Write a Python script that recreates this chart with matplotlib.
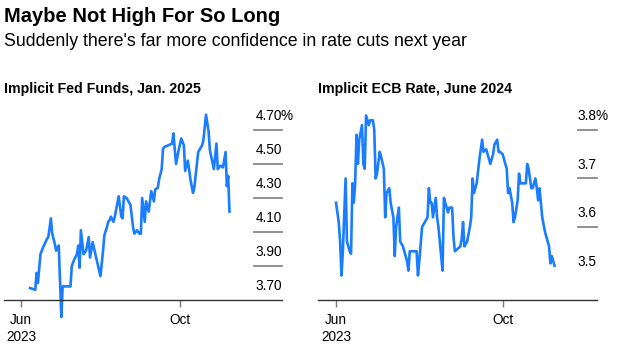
import numpy as np
import pandas as pd
import matplotlib
matplotlib.use('Agg')
import matplotlib.pyplot as plt
import matplotlib.transforms as mtransforms

plt.rcParams['font.family'] = ['Liberation Sans', 'DejaVu Sans']

# data: day offsets from 1 Jun 2023 and rate in %
fed_days = [7, 11, 12, 13, 15, 17, 20, 21, 23, 24, 26, 27, 29, 31, 32, 34, 35, 38,
            39, 41, 43, 44, 45, 46, 48, 50, 52, 53, 55, 58, 61, 63, 64, 66, 67, 68,
            69, 71, 72, 73, 75, 77, 78, 79, 81, 84, 86, 87, 89, 91, 92, 93, 95, 96,
            98, 100, 102, 103, 105, 106, 108, 109, 110, 113, 116, 117, 119, 121, 123,
            125, 126, 128, 129, 130, 132, 133, 135, 136, 139, 140, 142, 144, 145, 148,
            150, 151, 153, 155, 157, 158, 159, 160]
fed_vals = [3.77, 3.76, 3.86, 3.80, 3.97, 4.01, 4.06, 4.07, 4.18, 4.09, 4.03, 3.99,
            4.02, 3.60, 3.78, 3.78, 3.78, 3.78, 3.90, 3.94, 3.97, 4.02, 3.89, 4.11,
            3.97, 3.99, 4.07, 3.95, 4.04, 3.94, 3.84, 3.99, 4.08, 4.13, 4.16, 4.17,
            4.19, 4.16, 4.19, 4.23, 4.31, 4.19, 4.18, 4.31, 4.30, 4.26, 4.13, 4.09,
            4.11, 4.09, 4.09, 4.30, 4.16, 4.28, 4.22, 4.34, 4.28, 4.35, 4.36, 4.41,
            4.47, 4.59, 4.60, 4.61, 4.62, 4.68, 4.50, 4.58, 4.65, 4.61, 4.46, 4.52,
            4.47, 4.41, 4.33, 4.36, 4.50, 4.57, 4.61, 4.64, 4.79, 4.69, 4.58, 4.47,
            4.62, 4.47, 4.49, 4.48, 4.57, 4.37, 4.43, 4.22]

ecb_days = [0, 2, 3, 4, 5, 7, 8, 10, 11, 12, 13, 14, 15, 16, 17, 19, 20, 21, 22, 24,
            25, 27, 28, 29, 30, 32, 33, 35, 36, 37, 39, 40, 42, 43, 44, 46, 47, 49,
            50, 52, 53, 54, 57, 59, 60, 61, 63, 65, 67, 68, 69, 70, 71, 73, 74, 75,
            77, 78, 79, 80, 82, 83, 85, 86, 87, 89, 91, 92, 93, 94, 96, 98, 99, 100,
            101, 103, 105, 107, 108, 110, 111, 113, 115, 116, 118, 119, 120, 122, 124,
            125, 126, 127, 129, 130, 131, 133, 134, 135, 137, 139, 140, 141, 143, 144,
            146, 147, 148, 149, 151, 153, 155, 156, 157, 158, 160]
ecb_vals = [3.65, 3.61, 3.57, 3.50, 3.55, 3.70, 3.57, 3.55, 3.545, 3.69, 3.65, 3.69,
            3.79, 3.73, 3.78, 3.81, 3.73, 3.72, 3.83, 3.81, 3.82, 3.82, 3.80, 3.70,
            3.71, 3.755, 3.745, 3.72, 3.62, 3.67, 3.68, 3.65, 3.62, 3.54, 3.60, 3.64,
            3.57, 3.56, 3.55, 3.53, 3.51, 3.55, 3.55, 3.55, 3.50, 3.53, 3.60, 3.61,
            3.62, 3.68, 3.65, 3.65, 3.62, 3.66, 3.62, 3.60, 3.54, 3.51, 3.66, 3.65,
            3.63, 3.64, 3.64, 3.58, 3.55, 3.555, 3.56, 3.575, 3.61, 3.56, 3.57, 3.60,
            3.62, 3.70, 3.67, 3.69, 3.74, 3.78, 3.755, 3.76, 3.75, 3.73, 3.75, 3.77,
            3.78, 3.755, 3.755, 3.75, 3.73, 3.72, 3.67, 3.68, 3.65, 3.61, 3.62, 3.655,
            3.71, 3.69, 3.69, 3.69, 3.73, 3.72, 3.68, 3.68, 3.70, 3.68, 3.655, 3.68,
            3.62, 3.59, 3.57, 3.56, 3.525, 3.54, 3.52]

fed_ticks = [4.70, 4.50, 4.30, 4.10, 3.90, 3.70]
fed_labels = ['4.70', '4.50', '4.30', '4.10', '3.90', '3.70']
ecb_ticks = [3.8, 3.7, 3.6, 3.5]
ecb_labels = ['3.8', '3.7', '3.6', '3.5']
month_ticks = ['2023-06-01', '2023-10-01']
month_labels = ['Jun\n2023', 'Oct']

start = pd.Timestamp('2023-06-01')
fed_dates = start + pd.to_timedelta(fed_days, unit='D')
ecb_dates = start + pd.to_timedelta(ecb_days, unit='D')

blue = '#1a7dff'
W, H = 617, 355
fig = plt.figure(figsize=(W / 100, H / 100), dpi=100)

fig.text(4 / W, 1 - 16 / H, 'Maybe Not High For So Long', fontsize=14.5,
         fontweight='bold', va='center', ha='left')
fig.text(4 / W, 1 - 42 / H, "Suddenly there's far more confidence in rate cuts next year",
         fontsize=12.8, va='center', ha='left')


def panel(left, width, dates, vals, ylim, xlim_days, ticks, labels, grid_from, title):
    ax = fig.add_axes([left / W, 55 / H, width / W, 195 / H])
    ax.plot(dates, vals, color=blue, lw=1.9, solid_joinstyle='round', clip_on=False)
    ax.set_ylim(ylim)
    ax.set_xlim(start + pd.Timedelta(days=xlim_days[0]), start + pd.Timedelta(days=xlim_days[1]))
    for s in ['top', 'left', 'right']:
        ax.spines[s].set_visible(False)
    ax.spines['bottom'].set_color('#333333')
    ax.spines['bottom'].set_linewidth(1)
    ax.set_yticks([])
    ax.set_xticks(pd.to_datetime(month_ticks))
    ax.set_xticklabels(month_labels, fontsize=9.8, linespacing=1.3)
    ax.tick_params(axis='x', length=5, color='#777777', width=1, pad=4)
    trans = mtransforms.blended_transform_factory(ax.transAxes, ax.transData)
    off = mtransforms.offset_copy(trans, fig=fig, x=0, y=5, units='points')
    off_pct = mtransforms.offset_copy(trans, fig=fig, x=-1, y=5, units='points')
    for i, (t, l) in enumerate(zip(ticks, labels)):
        if t > ylim[0] + 0.01 and l != '3.5':
            ax.plot([grid_from, 1.0], [t, t], transform=trans, color='#888888',
                    lw=1.3, clip_on=False)
        ax.text(1.0, t, l, transform=off, ha='right', va='bottom', fontsize=9.8)
        if i == 0:
            ax.text(1.0, t, '%', transform=off_pct, ha='left', va='bottom', fontsize=9.8)
    fig.text(left / W, 1 - 89 / H, title, fontsize=10.2, fontweight='bold',
             va='center', ha='left')
    return ax


panel(4, 278, fed_dates, fed_vals, (3.70, 4.847), (-13, 200.3), fed_ticks, fed_labels,
      0.899, 'Implicit Fed Funds, Jan. 2025')
panel(318, 279, ecb_dates, ecb_vals, (3.4495, 3.8515), (-13.2, 191.1), ecb_ticks,
      ecb_labels, 0.931, 'Implicit ECB Rate, June 2024')

fig.savefig('out.png', dpi=100)
